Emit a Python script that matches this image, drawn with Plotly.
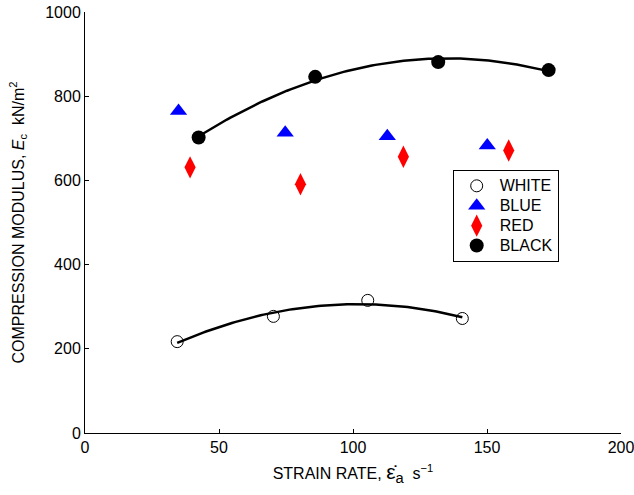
import numpy as np
import plotly.graph_objects as go

# Data
white_x = [34.4, 70.3, 105.5, 140.8]
white_y = [217, 277, 315, 272]
blue_x = [34.9, 74.7, 112.8, 150.1]
blue_y = [765, 713, 705, 683]
red_x = [39.2, 80.4, 118.8, 158.1]
red_y = [631, 591, 656, 671]
black_x = [42.4, 85.9, 131.8, 173.0]
black_y = [702, 846, 881, 862]

x_ticks = [0, 50, 100, 150, 200]
y_ticks = [0, 200, 400, 600, 800, 1000]

FONT = "Liberation Sans, Arial, Helvetica, sans-serif"


def lg(name):
    return "<span style='font-size:16px'>" + name + "</span>"


fig = go.Figure()

# quadratic trend lines fitted to the data
for xs, ys in [(white_x, white_y), (black_x, black_y)]:
    c = np.polyfit(xs, ys, 2)
    xf = np.linspace(min(xs), max(xs), 100)
    fig.add_trace(go.Scatter(x=xf, y=np.polyval(c, xf), mode="lines",
                             line=dict(color="black", width=2.5),
                             showlegend=False, hoverinfo="skip"))

fig.add_trace(go.Scatter(x=white_x, y=white_y, mode="markers", name=lg("WHITE"),
                         marker=dict(symbol="circle-open", size=12,
                                     color="black", line=dict(width=1))))
fig.add_trace(go.Scatter(x=blue_x, y=blue_y, mode="markers", name=lg("BLUE"),
                         marker=dict(symbol="triangle-up", size=15, color="blue")))
fig.add_trace(go.Scatter(x=red_x, y=red_y, mode="markers", name=lg("RED"),
                         marker=dict(symbol="diamond-tall", size=16, color="red")))
fig.add_trace(go.Scatter(x=black_x, y=black_y, mode="markers", name=lg("BLACK"),
                         marker=dict(symbol="circle", size=14, color="black")))

fig.update_layout(
    width=634, height=495,
    margin=dict(l=85, r=13, t=12, b=62),
    paper_bgcolor="white", plot_bgcolor="white",
    font=dict(family=FONT, size=16, color="black"),
    legend=dict(x=0.686, y=0.625, xanchor="left", yanchor="top",
                bordercolor="black", borderwidth=1, bgcolor="white",
                font=dict(size=13), tracegroupgap=0, itemwidth=36),
    xaxis=dict(range=[0, 200], tickvals=x_ticks, showgrid=False, zeroline=False,
               showline=True, linecolor="black", linewidth=1,
               ticks="inside", ticklen=4, tickcolor="black",
               tickfont=dict(size=16), automargin=False,
               ticklabeloverflow="allow",
               title=dict(text="STRAIN RATE, <span style='font-size:21px'>ε̇<sub>a</sub></span>  s<sup>−1</sup>",
                          font=dict(size=16), standoff=12)),
    yaxis=dict(range=[0, 1000], tickvals=y_ticks, showgrid=False, zeroline=False,
               showline=True, linecolor="black", linewidth=1,
               ticks="inside", ticklen=4, tickcolor="black",
               tickfont=dict(size=16), automargin=False,
               ticklabeloverflow="allow",
               title=dict(text="COMPRESSION MODULUS, <i>E</i><sub>c</sub>  kN/m<sup>2</sup>",
                          font=dict(size=16), standoff=16)),
)

fig.write_html("out.html", config={"displayModeBar": False},
               post_script="document.body.style.margin='0';")
